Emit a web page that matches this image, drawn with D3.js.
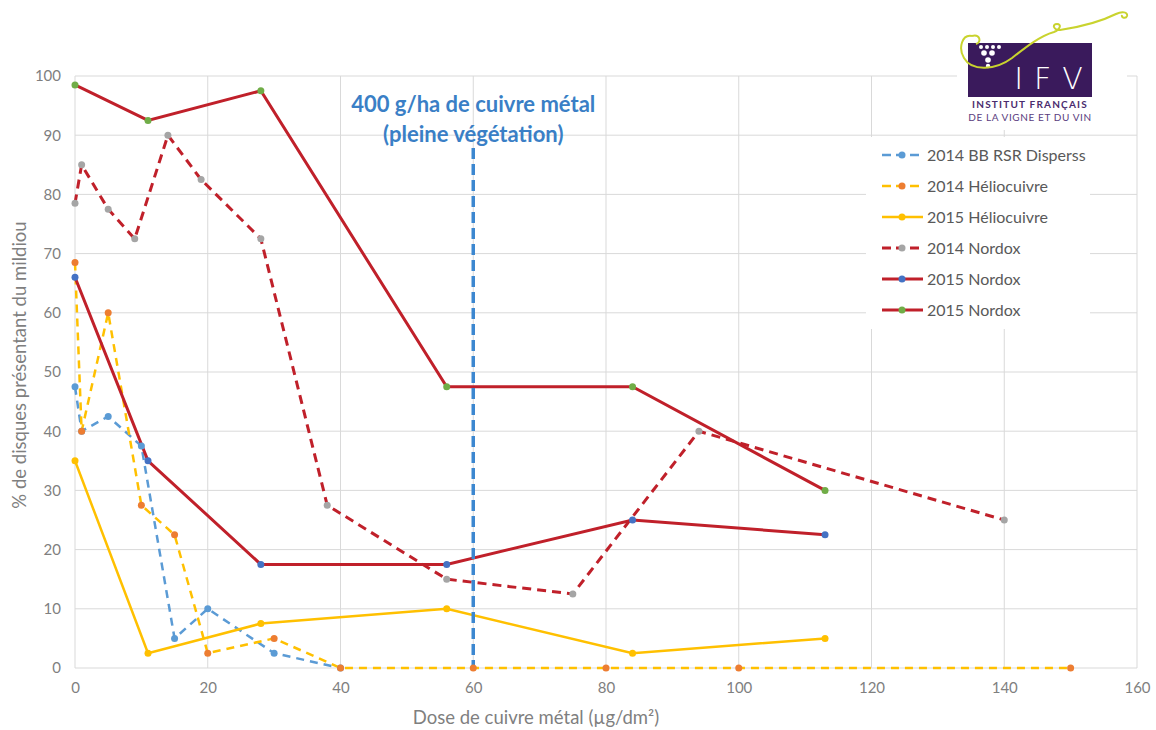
<!DOCTYPE html>
<html>
<head>
<meta charset="utf-8">
<script src="https://cdn.jsdelivr.net/npm/d3@7"></script>
<style>
	body { margin: 0; background: #fff; }
	svg text { font-family: Lato, "Open Sans", sans-serif; }
</style>
</head>
<body>
<div id="chart"></div>
<script>
	// Axis ticks
	var xTicks = [0, 20, 40, 60, 80, 100, 120, 140, 160];
	var yTicks = [0, 10, 20, 30, 40, 50, 60, 70, 80, 90, 100];

	// 2014 trials (doses differ per product)
	var bbDose = [0, 1, 5, 10, 15, 20, 30, 40];
	var bbPct = [47.5, 40, 42.5, 37.5, 5, 10, 2.5, 0];
	var helio14Dose = [0, 1, 5, 10, 15, 20, 30, 40, 60, 80, 100, 150];
	var helio14Pct = [68.5, 40, 60, 27.5, 22.5, 2.5, 5, 0, 0, 0, 0, 0];
	var nordox14Dose = [0, 1, 5, 9, 14, 19, 28, 38, 56, 75, 94, 140];
	var nordox14Pct = [78.5, 85, 77.5, 72.5, 90, 82.5, 72.5, 27.5, 15, 12.5, 40, 25];

	// 2015 trials (same doses for all)
	var dose2015 = [0, 11, 28, 56, 84, 113];
	var helio15Pct = [35, 2.5, 7.5, 10, 2.5, 5];
	var nordox15aPct = [66, 35, 17.5, 17.5, 25, 22.5];
	var nordox15bPct = [98.5, 92.5, 97.5, 47.5, 47.5, 30];

	var refDose = 60;

	function zip(xs, ys) {
		return xs.map(function(d, i) { return {x: d, y: ys[i]}; });
	}

	var series = [
		{label: '2014 BB RSR Disperss', values: zip(bbDose, bbPct), color: '#5B9BD5', marker: '#5B9BD5', dash: '8,6'},
		{label: '2014 Héliocuivre', values: zip(helio14Dose, helio14Pct), color: '#FFC000', marker: '#ED7D31', dash: '8,6'},
		{label: '2015 Héliocuivre', values: zip(dose2015, helio15Pct), color: '#FFC000', marker: '#FFC000', dash: null},
		{label: '2014 Nordox', values: zip(nordox14Dose, nordox14Pct), color: '#C0202A', marker: '#A5A5A5', dash: '9,6'},
		{label: '2015 Nordox', values: zip(dose2015, nordox15aPct), color: '#C0202A', marker: '#4472C4', dash: null},
		{label: '2015 Nordox', values: zip(dose2015, nordox15bPct), color: '#C0202A', marker: '#70AD47', dash: null}
	];

	var W = 1156, H = 730;
	var margin = {top: 76, right: 19, bottom: 62, left: 75};
	var width = W - margin.left - margin.right;
	var height = H - margin.top - margin.bottom;

	var svg = d3.select('#chart')
		.append('svg')
			.attr('width', W)
			.attr('height', H);

	var g = svg.append('g')
		.attr('transform', 'translate(' + margin.left + ',' + margin.top + ')');

	var x = d3.scaleLinear().domain([0, 160]).range([0, width]);
	var y = d3.scaleLinear().domain([0, 100]).range([height, 0]);

	// Grid
	g.append('g')
		.selectAll('line.hg')
		.data(yTicks)
		.enter().append('line')
			.attr('x1', 0).attr('x2', width)
			.attr('y1', function(d) { return y(d); })
			.attr('y2', function(d) { return y(d); })
			.style('stroke', '#D9D9D9');
	g.append('g')
		.selectAll('line.vg')
		.data(xTicks)
		.enter().append('line')
			.attr('y1', 0).attr('y2', height)
			.attr('x1', function(d) { return x(d); })
			.attr('x2', function(d) { return x(d); })
			.style('stroke', '#D9D9D9');

	// Axes
	var xAxis = g.append('g')
		.attr('transform', 'translate(0,' + height + ')')
		.call(d3.axisBottom(x).tickValues(xTicks).tickSize(0).tickPadding(14));
	var yAxis = g.append('g')
		.call(d3.axisLeft(y).tickValues(yTicks).tickSize(0).tickPadding(14));
	[xAxis, yAxis].forEach(function(a) {
		a.select('.domain').remove();
		a.selectAll('text')
			.style('font-family', 'Lato, sans-serif')
			.style('font-size', '15px')
			.style('fill', '#7F7F7F');
	});

	svg.append('text')
		.attr('x', 536)
		.attr('y', 724)
		.attr('text-anchor', 'middle')
		.style('font-size', '18.5px')
		.style('fill', '#7F7F7F')
		.text('Dose de cuivre métal (µg/dm²)');

	svg.append('text')
		.attr('transform', 'translate(26,365) rotate(-90)')
		.attr('text-anchor', 'middle')
		.style('font-size', '18.5px')
		.style('fill', '#7F7F7F')
		.text('% de disques présentant du mildiou');

	// Series lines
	var line = d3.line()
		.x(function(d) { return x(d.x); })
		.y(function(d) { return y(d.y); });

	series.forEach(function(s) {
		g.append('path')
			.datum(s.values)
			.attr('d', line)
			.style('fill', 'none')
			.style('stroke', s.color)
			.style('stroke-width', s.color == '#C0202A' ? 3 : 2.5)
			.style('stroke-dasharray', s.dash);
	});

	// Reference dose
	g.append('line')
		.attr('x1', x(refDose)).attr('x2', x(refDose))
		.attr('y1', 72).attr('y2', height)
		.style('stroke', '#3C87D0')
		.style('stroke-width', 3.5)
		.style('stroke-dasharray', '11,5');

	// Markers on top
	series.forEach(function(s, i) {
		g.selectAll('.pt.serie-' + i)
			.data(s.values)
			.enter().append('circle')
				.attr('class', 'pt serie-' + i)
				.attr('cx', function(d) { return x(d.x); })
				.attr('cy', function(d) { return y(d.y); })
				.attr('r', 3.5)
				.style('fill', s.marker);
	});

	var note = svg.append('text')
		.attr('text-anchor', 'middle')
		.style('font-size', '22px')
		.style('font-weight', 'bold')
		.style('fill', '#3A7FC6');
	note.append('tspan').attr('x', margin.left + x(refDose)).attr('y', 112).text('400 g/ha de cuivre métal');
	note.append('tspan').attr('x', margin.left + x(refDose)).attr('y', 142).text('(pleine végétation)');

	// Legend
	svg.append('rect')
		.attr('x', 866).attr('y', 137)
		.attr('width', 224).attr('height', 192)
		.style('fill', '#fff');

	var legend = svg.selectAll('.legend')
		.data(series)
		.enter().append('g')
			.attr('class', 'legend')
			.attr('transform', function(d, i) {
				return 'translate(882,' + (155 + i * 31) + ')';
			});

	legend.append('line')
		.attr('x1', 0).attr('x2', 41)
		.style('stroke', function(d) { return d.color; })
		.style('stroke-width', function(d) { return d.color == '#C0202A' ? 3 : 2.5; })
		.style('stroke-dasharray', function(d) { return d.dash ? '9,5' : null; });

	legend.append('circle')
		.attr('cx', 20)
		.attr('r', 3.5)
		.style('fill', function(d) { return d.marker; });

	legend.append('text')
		.attr('x', 45)
		.attr('dy', '.35em')
		.style('font-size', '16px')
		.style('fill', '#595959')
		.text(function(d) { return d.label; });

	// IFV logo
	var logo = svg.append('g');
	logo.append('rect')
		.attr('x', 957).attr('y', 0)
		.attr('width', 170).attr('height', 130)
		.style('fill', '#fff');
	logo.append('rect')
		.attr('x', 968).attr('y', 43)
		.attr('width', 124).attr('height', 54)
		.style('fill', '#3A1A5C');
	[[981, 47, 2], [987, 47, 2], [993, 47, 2], [999, 47, 2],
		[984, 53, 2.8], [992, 53, 2.8], [988, 60, 2.8], [988, 66, 2.2]].forEach(function(c) {
		logo.append('circle')
			.attr('cx', c[0]).attr('cy', c[1]).attr('r', c[2])
			.style('fill', '#fff');
	});
	logo.append('text')
		.attr('x', 1054).attr('y', 89)
		.attr('text-anchor', 'middle')
		.style('font-family', '"DejaVu Sans", sans-serif')
		.style('font-size', '30px')
		.style('font-weight', '300')
		.style('letter-spacing', '11px')
		.style('fill', '#fff')
		.text('IFV');
	logo.append('path')
		.attr('d', 'M972,36 C962,34 958,48 964,58 C972,72 996,70 1012,58 C1026,47 1040,36 1054,32 C1060,30 1062,24 1057,24 C1052,24 1053,30 1060,30 C1080,27 1100,22 1116,14 C1122,11 1128,12 1127,16 C1126,19 1121,18 1122,15')
		.style('fill', 'none')
		.style('stroke', '#C9D32E')
		.style('stroke-width', 2);
	logo.append('path')
		.attr('d', 'M972,36 C980,34 982,42 976,44')
		.style('fill', 'none')
		.style('stroke', '#C9D32E')
		.style('stroke-width', 2);
	logo.append('text')
		.attr('x', 1030).attr('y', 108)
		.attr('text-anchor', 'middle')
		.style('font-size', '10px')
		.style('font-weight', 'bold')
		.style('letter-spacing', '1.2px')
		.style('fill', '#4A2C6E')
		.text('INSTITUT FRANÇAIS');
	logo.append('text')
		.attr('x', 1030).attr('y', 121)
		.attr('text-anchor', 'middle')
		.style('font-size', '10px')
		.style('letter-spacing', '0.6px')
		.style('fill', '#5A3C7E')
		.text('DE LA VIGNE ET DU VIN');
</script>
</body>
</html>
